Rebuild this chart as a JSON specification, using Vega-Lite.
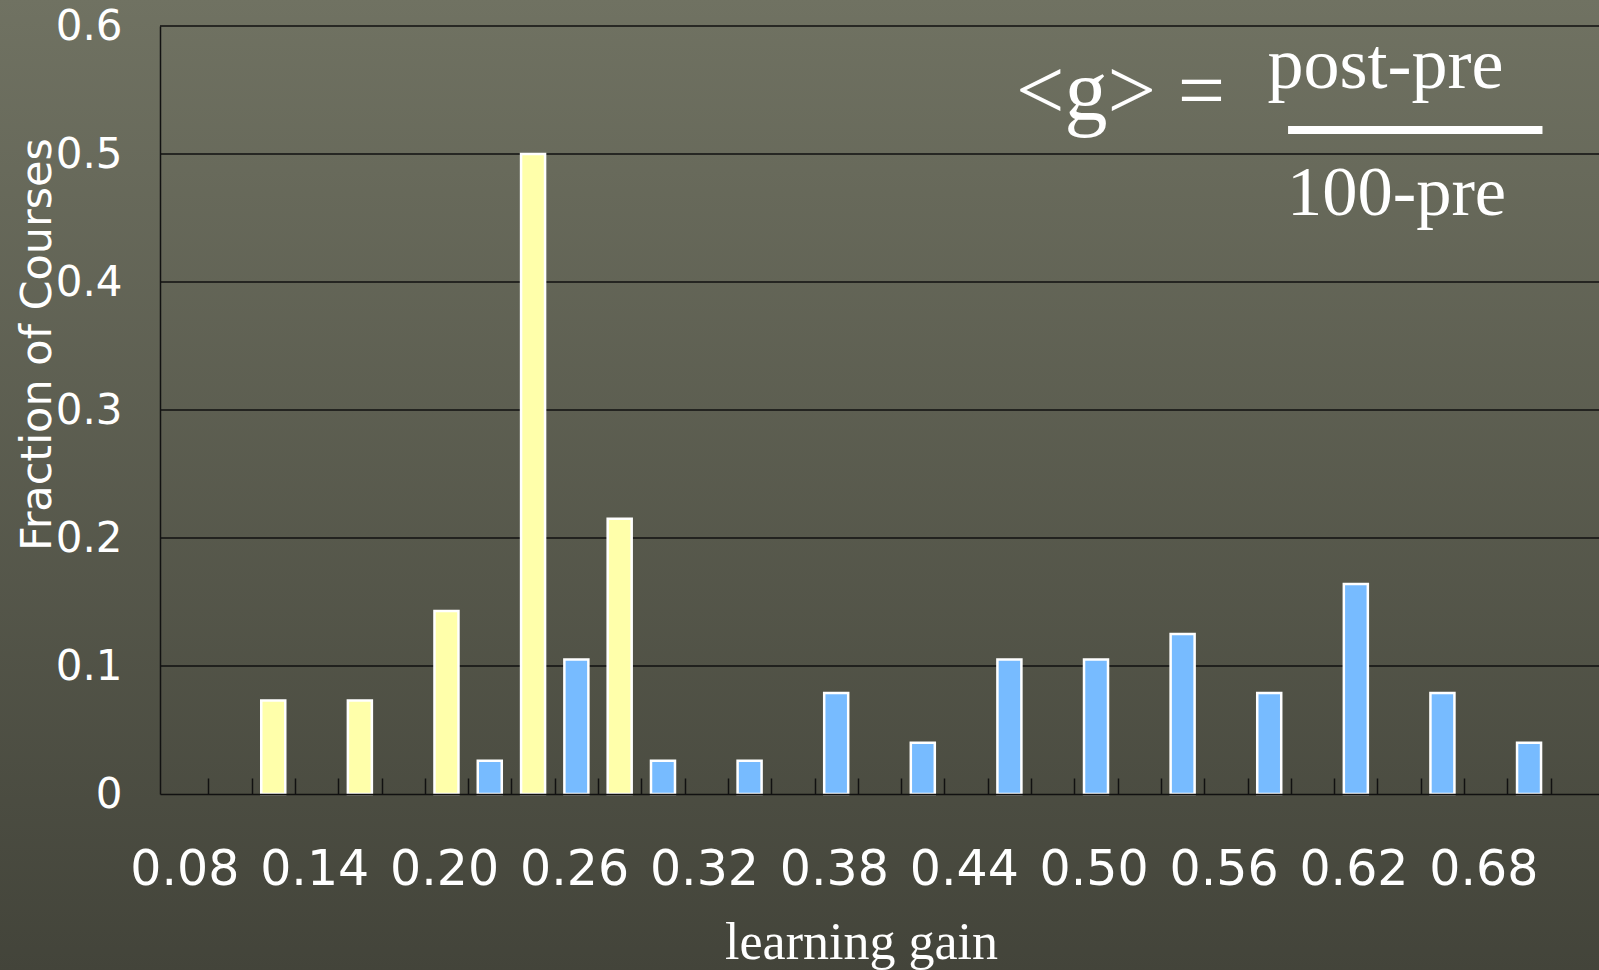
{
  "$schema": "https://vega.github.io/schema/vega-lite/v6.json",
  "width": 1439,
  "height": 768,
  "autosize": {"type": "none"},
  "padding": {"left": 160, "top": 26, "right": 0, "bottom": 176},
  "background": "#5a5b4e",
  "config": {"view": {"stroke": null}, "font": "DejaVu Sans"},
  "datasets": {
    "bars": [
      {"gain": 0.12, "fraction": 0.073, "group": "traditional"},
      {"gain": 0.16, "fraction": 0.073, "group": "traditional"},
      {"gain": 0.20, "fraction": 0.143, "group": "traditional"},
      {"gain": 0.24, "fraction": 0.5, "group": "traditional"},
      {"gain": 0.28, "fraction": 0.215, "group": "traditional"},
      {"gain": 0.22, "fraction": 0.026, "group": "interactive engagement"},
      {"gain": 0.26, "fraction": 0.105, "group": "interactive engagement"},
      {"gain": 0.30, "fraction": 0.026, "group": "interactive engagement"},
      {"gain": 0.34, "fraction": 0.026, "group": "interactive engagement"},
      {"gain": 0.38, "fraction": 0.079, "group": "interactive engagement"},
      {"gain": 0.42, "fraction": 0.04, "group": "interactive engagement"},
      {"gain": 0.46, "fraction": 0.105, "group": "interactive engagement"},
      {"gain": 0.50, "fraction": 0.105, "group": "interactive engagement"},
      {"gain": 0.54, "fraction": 0.125, "group": "interactive engagement"},
      {"gain": 0.58, "fraction": 0.079, "group": "interactive engagement"},
      {"gain": 0.62, "fraction": 0.164, "group": "interactive engagement"},
      {"gain": 0.66, "fraction": 0.079, "group": "interactive engagement"},
      {"gain": 0.70, "fraction": 0.04, "group": "interactive engagement"}
    ],
    "gridlines": [
      {"fraction": 0.1}, {"fraction": 0.2}, {"fraction": 0.3}, {"fraction": 0.4}, {"fraction": 0.5}, {"fraction": 0.6}
    ],
    "one": [{"note": "formula"}]
  },
  "layer": [
    {
      "data": {"name": "one"},
      "mark": {"type": "rect", "clip": false, "fill": {"gradient": "linear", "x1": 0, "y1": 0, "x2": 0, "y2": 1, "stops": [{"offset": 0, "color": "#707262"}, {"offset": 1, "color": "#43443a"}]}},
      "encoding": {
        "x": {"datum": -0.01, "type": "quantitative"},
        "x2": {"datum": 0.74},
        "y": {"datum": 0.6215, "type": "quantitative"},
        "y2": {"datum": -0.139}
      }
    },
    {
      "data": {"name": "gridlines"},
      "mark": {"type": "rule", "color": "#111111", "strokeWidth": 1.5},
      "encoding": {
        "y": {"field": "fraction", "type": "quantitative", "title": "Fraction of Courses"}
      }
    },
    {
      "data": {"name": "bars"},
      "mark": {"type": "bar", "width": 24, "stroke": "white", "strokeWidth": 2.5},
      "encoding": {
        "x": {
          "field": "gain", "type": "quantitative",
          "scale": {"domain": [0.07, 0.73], "nice": false, "zero": false},
          "axis": {
            "title": "learning gain",
            "zindex": 1,
            "values": [0.09,0.11,0.13,0.15,0.17,0.19,0.21,0.23,0.25,0.27,0.29,0.31,0.33,0.35,0.37,0.39,0.41,0.43,0.45,0.47,0.49,0.51,0.53,0.55,0.57,0.59,0.61,0.63,0.65,0.67,0.69,0.71],
            "labelExpr": "round(datum.value*100)%6==3 ? format(datum.value-0.01,'.2f') : ''",
            "labelOffset": -24,
            "labelFont": "DejaVu Sans",
            "labelFontSize": 49,
            "labelColor": "white",
            "labelPadding": 67,
            "labelOverlap": false,
            "labelFlush": false,
            "labelBound": false,
            "ticks": true,
            "tickSize": -16,
            "tickWidth": 1.5,
            "tickColor": "#111111",
            "domainColor": "#111111",
            "domainWidth": 1.5,
            "grid": false,
            "titleFont": "Liberation Serif",
            "titleFontSize": 52,
            "titleFontWeight": "normal",
            "titleColor": "white",
            "titleX": 701,
            "titleY": 164,
            "titleAlign": "center",
            "titleBaseline": "alphabetic"
          }
        },
        "y": {
          "field": "fraction", "type": "quantitative",
          "scale": {"domain": [0, 0.6], "nice": false},
          "axis": {
            "title": "Fraction of Courses",
            "zindex": 1,
            "values": [0, 0.1, 0.2, 0.3, 0.4, 0.5, 0.6],
            "labelExpr": "datum.value==0 ? '0' : format(datum.value,'.1f')",
            "labelFont": "DejaVu Sans",
            "labelFontSize": 42,
            "labelColor": "white",
            "labelPadding": 38,
            "labelFlush": false,
            "labelOverlap": false,
            "ticks": false,
            "domainColor": "#111111",
            "domainWidth": 1.5,
            "grid": false,
            "titleFont": "DejaVu Sans",
            "titleFontSize": 43,
            "titleFontWeight": "normal",
            "titleColor": "white",
            "titleAngle": -90,
            "titleX": -110,
            "titleY": 318,
            "titleAlign": "center",
            "titleBaseline": "alphabetic"
          }
        },
        "color": {
          "field": "group", "type": "nominal",
          "scale": {"domain": ["traditional", "interactive engagement"], "range": ["#ffffaa", "#77bbff"]},
          "legend": null
        }
      }
    },
    {
      "data": {"name": "one"},
      "mark": {"type": "rule", "color": "white", "strokeWidth": 8},
      "encoding": {
        "x": {"datum": 0.5887, "type": "quantitative"},
        "x2": {"datum": 0.7062},
        "y": {"datum": 0.5188, "type": "quantitative"}
      }
    },
    {
      "data": {"name": "one"},
      "mark": {"type": "text", "font": "Liberation Serif", "fontSize": 86, "color": "white", "align": "left", "baseline": "alphabetic"},
      "encoding": {
        "x": {"datum": 0.4631, "type": "quantitative"},
        "y": {"datum": 0.5273, "type": "quantitative"},
        "text": {"value": "<g>"}
      }
    },
    {
      "data": {"name": "one"},
      "mark": {"type": "text", "font": "Liberation Serif", "fontSize": 84, "color": "white", "align": "left", "baseline": "alphabetic"},
      "encoding": {
        "x": {"datum": 0.5378, "type": "quantitative"},
        "y": {"datum": 0.5273, "type": "quantitative"},
        "text": {"value": "="}
      }
    },
    {
      "data": {"name": "one"},
      "mark": {"type": "text", "font": "Liberation Serif", "fontSize": 72, "color": "white", "align": "center", "baseline": "alphabetic"},
      "encoding": {
        "x": {"datum": 0.6337, "type": "quantitative"},
        "y": {"datum": 0.5516, "type": "quantitative"},
        "text": {"value": "post-pre"}
      }
    },
    {
      "data": {"name": "one"},
      "mark": {"type": "text", "font": "Liberation Serif", "fontSize": 70.5, "color": "white", "align": "center", "baseline": "alphabetic"},
      "encoding": {
        "x": {"datum": 0.6388, "type": "quantitative"},
        "y": {"datum": 0.4523, "type": "quantitative"},
        "text": {"value": "100-pre"}
      }
    }
  ]
}
